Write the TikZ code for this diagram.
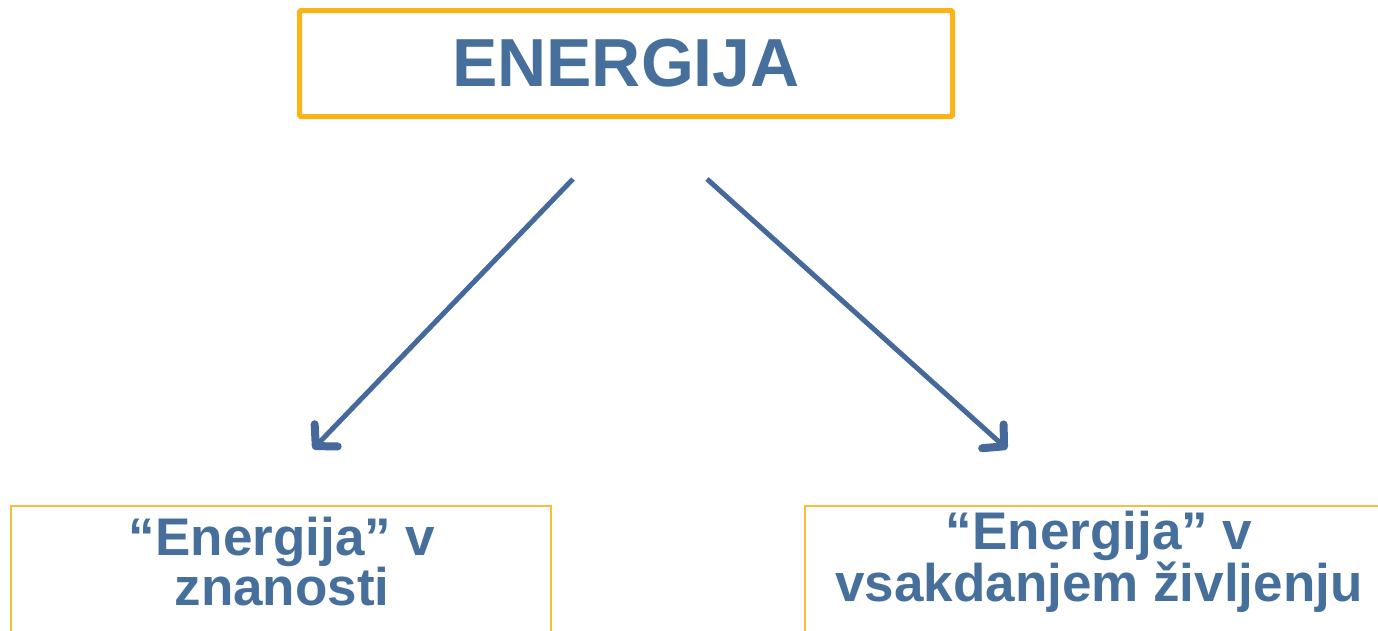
\documentclass[tikz,border=0pt]{standalone}
\usepackage{fontspec}
\setmainfont{Liberation Sans}
\usetikzlibrary{arrows.meta}
\definecolor{txtblue}{HTML}{46709B}
\definecolor{boxorange}{HTML}{FBB418}
\definecolor{thinorange}{HTML}{F9BE3C}
\definecolor{arrowblue}{HTML}{44699A}
\tikzset{
  topbox/.style={draw=boxorange, line width=5pt, rounded corners=1.5pt, fill=white, inner sep=0pt},
  subbox/.style={draw=thinorange, line width=1.6pt, inner sep=0pt},
  lbl/.style={text=txtblue, font=\bfseries\fontsize{53}{50}\selectfont, align=center, inner sep=0pt},
  conn/.style={draw=arrowblue, line width=5pt, -{Straight Barb[length=15pt, width=32pt, line width=8pt, round]}}
}
\begin{document}
\begin{tikzpicture}[x=1pt, y=-1pt]
\useasboundingbox (0,0) rectangle (1378,630);
\clip (0,0) rectangle (1378,630);
\node[topbox, minimum width=653pt, minimum height=106pt, text=txtblue, font=\bfseries\fontsize{68}{80}\selectfont] (top) at (626,63.5) {ENERGIJA};
\node[subbox, minimum width=540pt, minimum height=180pt, anchor=north] (sci) at (281,505) {};
\node[subbox, minimum width=588pt, minimum height=180pt, anchor=north] (life) at (1099,505) {};
\node[lbl] (scitext) at (282,562) {“Energija” v\\znanosti};
\node[lbl] (lifetext) at (1099,562) {“Energija” v\\vsakdanjem življenju};
\coordinate (a1s) at (573,179);
\coordinate (a1e) at (313,449);
\coordinate (a2s) at (707,179);
\coordinate (a2e) at (1007,449);
\draw[conn] (a1s) -- (a1e);
\draw[conn] (a2s) -- (a2e);
\end{tikzpicture}
\end{document}
